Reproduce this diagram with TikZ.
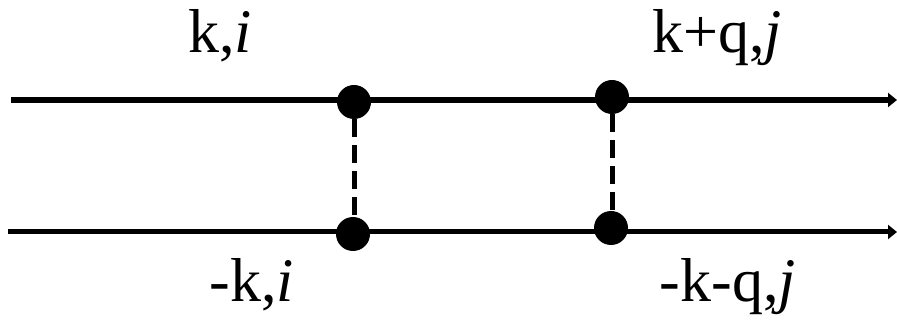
\documentclass[tikz,border=0pt]{standalone}
\usepackage{fontspec}
\setmainfont{Liberation Serif}
\usetikzlibrary{arrows.meta}
\begin{document}
\begin{tikzpicture}[x=1pt,y=-1pt,
  dot/.style={circle,fill=black,minimum size=34pt,inner sep=0pt},
  lbl/.style={anchor=base,inner sep=0pt,font=\fontsize{62}{70}\selectfont},
  prop/.style={line width=#1,-{Triangle[length=9pt,width=14pt]}},
  link/.style={line width=5pt,dash pattern=on 18pt off 8pt}]
\useasboundingbox (0,0) rectangle (897,320);
\coordinate (tl) at (11,100);
\coordinate (tr) at (897,100);
\coordinate (bl) at (8,232);
\coordinate (br) at (897,232);
\draw[prop=6pt] (tl) -- (tr);
\draw[prop=5pt] (bl) -- (br);
\node[dot] (a) at (354,102) {};
\node[dot] (b) at (612,97) {};
\node[dot] (c) at (353,234) {};
\node[dot] (d) at (611,228) {};
\draw[link] (a.south) -- (a.south |- c.north);
\draw[link] (b.south) -- (b.south |- d.north);
\node[lbl] (t1) at (220,53) {k,\textit{i}};
\node[lbl] (t2) at (717,53) {k+q,\textit{j}};
\node[lbl] (t3) at (252,302) {-k,\textit{i}};
\node[lbl] (t4) at (728,302) {-k-q,\textit{j}};
\end{tikzpicture}
\end{document}
